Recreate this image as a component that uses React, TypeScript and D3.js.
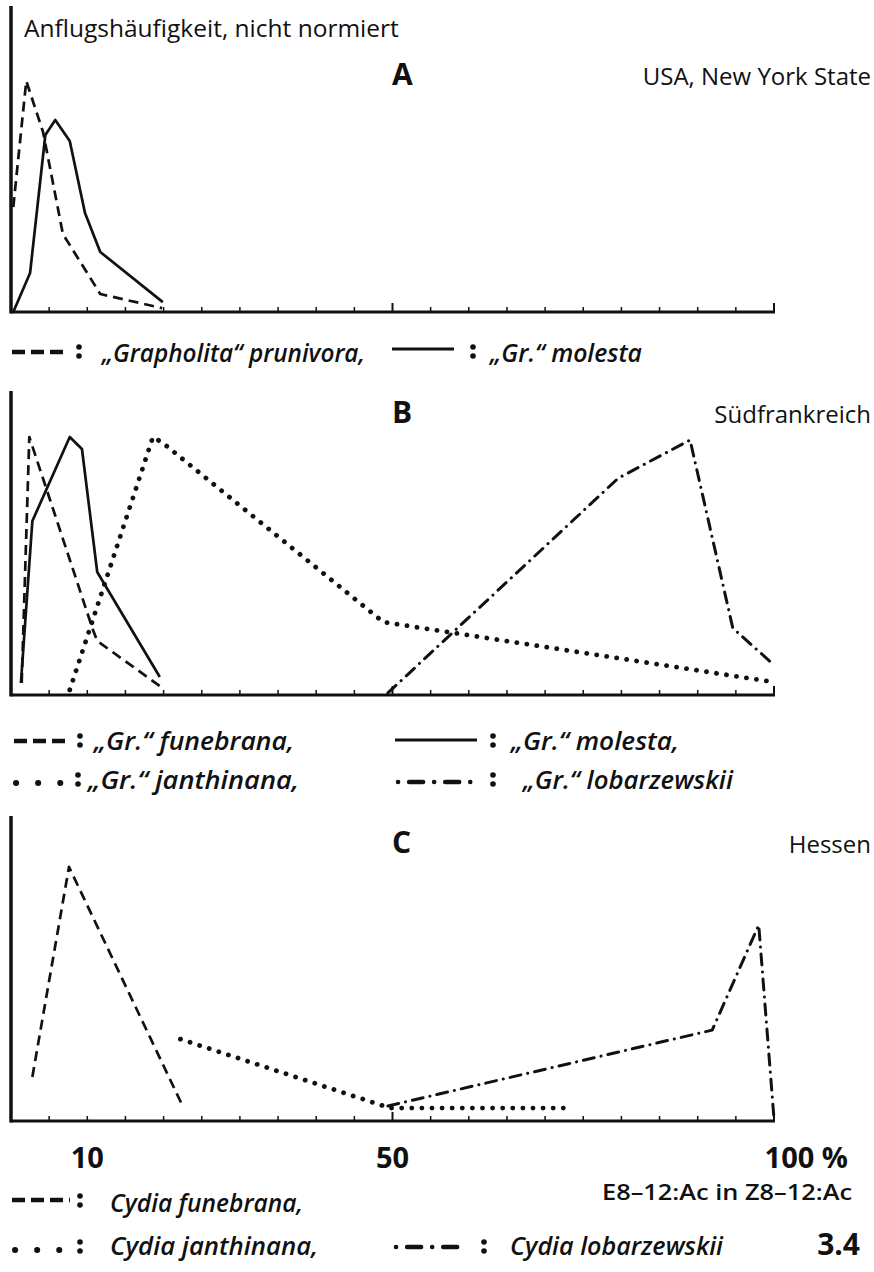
import React from 'react';
import * as d3 from 'd3';

type Pt = [number, number];

// x: % E8-12:Ac in Z8-12:Ac, y: Anflugshäufigkeit (relativ, nicht normiert)
const aPrunivora: Pt[] = [[0.3, 35], [2, 77], [4.2, 60], [6.8, 26], [11.7, 6], [19.8, 1.3]];
const aMolesta: Pt[] = [[0.3, 0], [2.5, 13], [4.5, 59], [5.8, 64], [7.7, 57], [9.7, 33], [11.7, 20], [19.9, 3.3]];

const bFunebrana: Pt[] = [[1.4, 4], [2.4, 86], [10.7, 22], [11.3, 18], [19.5, 3]];
const bMolesta: Pt[] = [[1.3, 4], [2.8, 58], [7.7, 86], [9.3, 82], [11.3, 41], [19.5, 6]];
const bJanthinana: Pt[] = [[7.7, 1.7], [18.6, 86], [19.9, 84], [48.8, 24.3], [100, 4.3]];
const bLobarzewskii: Pt[] = [[49.4, 0.7], [79.6, 72.3], [89, 85], [94.6, 22.3], [100, 10]];

const cFunebrana: Pt[] = [[2.8, 14.7], [7.6, 84.7], [22.5, 5]];
const cJanthinana: Pt[] = [[22.2, 27.3], [49.7, 4.3], [73, 4.3]];
const cLobarzewskii: Pt[] = [[49.4, 5], [91.9, 30.3], [98, 65.3], [100, 0.7]];

const xLabels = [10, 50, 100];

const W = 874;
const H = 1272;
const textFont = "'Open Sans', 'Noto Sans', sans-serif";

const styles: Record<string, { dash: string; width: number; cap: 'round' | 'butt' }> = {
  dashed: { dash: '10 6', width: 2.7, cap: 'butt' },
  solid: { dash: '', width: 2.7, cap: 'butt' },
  dotted: { dash: '0.1 10', width: 4.8, cap: 'round' },
  dashdot: { dash: '11 7 0.1 7', width: 3, cap: 'round' },
};

const x = d3.scaleLinear().domain([0, 100]).range([11, 774]);

interface PanelProps {
  base: number;
  top: number;
  series: { data: Pt[]; kind: string }[];
}

const Panel: React.FC<PanelProps> = ({ base, top, series }) => {
  const y = d3.scaleLinear().domain([0, 100]).range([base, base - 300]);
  const line = d3
    .line<Pt>()
    .x((d) => x(d[0]))
    .y((d) => y(d[1]));
  const ticks = d3.range(5, 101, 5);
  return (
    <g>
      {series.map((s, i) => {
        const st = styles[s.kind];
        return (
          <path
            key={i}
            d={line(s.data) || ''}
            fill="none"
            stroke="#111"
            strokeWidth={st.width}
            strokeDasharray={st.dash || undefined}
            strokeLinecap={st.cap}
            strokeLinejoin="round"
          />
        );
      })}
      {/* Achsen */}
      <line x1={x(0)} x2={x(0)} y1={top} y2={base + 1.5} stroke="#111" strokeWidth={3.5} />
      <line x1={x(0)} x2={x(100) + 1} y1={base} y2={base} stroke="#111" strokeWidth={3} />
      {ticks.map((t) => (
        <line
          key={t}
          x1={x(t)}
          x2={x(t)}
          y1={base}
          y2={base - (t % 50 === 0 ? 9 : 5)}
          stroke="#111"
          strokeWidth={t % 50 === 0 ? 2 : 1.5}
        />
      ))}
    </g>
  );
};

const legendDash: Record<string, string> = {
  dashed: '13 6',
  solid: '',
  dotted: '0.1 22',
  dashdot: '0.1 11 14 11',
};

const Sample: React.FC<{ kind: string; x1: number; x2: number; y: number }> = ({ kind, x1, x2, y }) => (
  <line
    x1={x1}
    x2={x2}
    y1={y}
    y2={y}
    stroke="#111"
    strokeWidth={kind === 'dotted' ? 6 : kind === 'solid' ? 3 : 4.5}
    strokeDasharray={legendDash[kind] || undefined}
    strokeLinecap={kind === 'dotted' || kind === 'dashdot' ? 'round' : 'butt'}
  />
);

const Colon: React.FC<{ x: number; y: number }> = ({ x: cx, y }) => (
  <g>
    <circle cx={cx} cy={y - 5} r={2.8} fill="#111" />
    <circle cx={cx} cy={y + 4} r={2.8} fill="#111" />
  </g>
);

const LegendText: React.FC<{ x: number; y: number; w: number; children: React.ReactNode }> = ({
  x: tx,
  y,
  w,
  children,
}) => (
  <text
    x={tx}
    y={y}
    textLength={w}
    lengthAdjust="spacingAndGlyphs"
    fontFamily={textFont}
    fontStyle="italic"
    fontWeight={600}
    fontSize={26}
    fill="#111"
  >
    {children}
  </text>
);

export default function App() {
  return (
    <svg width={W} height={H} style={{ position: 'absolute', left: 0, top: 0, background: '#fff' }}>
      <rect width={W} height={H} fill="#fff" />

      {/* Panel A */}
      <text x={24} y={37} fontFamily={textFont} fontSize={24.5} fill="#111">
        Anflugshäufigkeit, nicht normiert
      </text>
      <text x={392} y={85} fontFamily={textFont} fontWeight={700} fontSize={30} fill="#111">A</text>
      <text x={871} y={85} textAnchor="end" fontFamily={textFont} fontSize={24} fill="#111">
        USA, New York State
      </text>
      <Panel
        base={312}
        top={6}
        series={[
          { data: aPrunivora, kind: 'dashed' },
          { data: aMolesta, kind: 'solid' },
        ]}
      />
      <Sample kind="dashed" x1={12} x2={68} y={352} />
      <Colon x={79} y={352} />
      <LegendText x={102} y={362} w={263}>„Grapholita“ prunivora,</LegendText>
      <Sample kind="solid" x1={392} x2={454} y={349} />
      <Colon x={473} y={352} />
      <LegendText x={490} y={362} w={152}>„Gr.“ molesta</LegendText>

      {/* Panel B */}
      <text x={392} y={423} fontFamily={textFont} fontWeight={700} fontSize={30} fill="#111">B</text>
      <text x={871} y={423} textAnchor="end" fontFamily={textFont} fontSize={24} fill="#111">
        Südfrankreich
      </text>
      <Panel
        base={695}
        top={391}
        series={[
          { data: bFunebrana, kind: 'dashed' },
          { data: bMolesta, kind: 'solid' },
          { data: bJanthinana, kind: 'dotted' },
          { data: bLobarzewskii, kind: 'dashdot' },
        ]}
      />
      <Sample kind="dashed" x1={14} x2={69} y={741} />
      <Colon x={80} y={741} />
      <LegendText x={94} y={750} w={200}>„Gr.“ funebrana,</LegendText>
      <Sample kind="solid" x1={395} x2={477} y={740} />
      <Colon x={493} y={741} />
      <LegendText x={511} y={750} w={168}>„Gr.“ molesta,</LegendText>
      <Sample kind="dotted" x1={16} x2={62} y={783} />
      <Colon x={78} y={780} />
      <LegendText x={88} y={789} w={211}>„Gr.“ janthinana,</LegendText>
      <Sample kind="dashdot" x1={398} x2={476} y={782} />
      <Colon x={493} y={780} />
      <LegendText x={523} y={789} w={210}>„Gr.“ lobarzewskii</LegendText>

      {/* Panel C */}
      <text x={392} y={853} fontFamily={textFont} fontWeight={700} fontSize={30} fill="#111">C</text>
      <text x={871} y={853} textAnchor="end" fontFamily={textFont} fontSize={24} fill="#111">
        Hessen
      </text>
      <Panel
        base={1121}
        top={816}
        series={[
          { data: cFunebrana, kind: 'dashed' },
          { data: cJanthinana, kind: 'dotted' },
          { data: cLobarzewskii, kind: 'dashdot' },
        ]}
      />

      {/* x-Beschriftung */}
      {xLabels.map((v) => (
        <text
          key={v}
          x={v === 100 ? 848 : x(v)}
          y={1168}
          textAnchor={v === 100 ? 'end' : 'middle'}
          fontFamily={textFont}
          fontWeight={700}
          fontSize={29}
          fill="#111"
        >
          {v === 100 ? '100 %' : v}
        </text>
      ))}
      <text
        x={852}
        y={1200}
        textAnchor="end"
        textLength={250}
        lengthAdjust="spacingAndGlyphs"
        fontFamily={textFont}
        fontWeight={600}
        fontSize={22}
        fill="#111"
      >
        E8–12:Ac in Z8–12:Ac
      </text>

      <Sample kind="dashed" x1={12} x2={70} y={1200} />
      <Colon x={80} y={1201} />
      <LegendText x={110} y={1212} w={193}>Cydia funebrana,</LegendText>
      <Sample kind="dotted" x1={15} x2={61} y={1250} />
      <Colon x={80} y={1247} />
      <LegendText x={110} y={1255} w={208}>Cydia janthinana,</LegendText>
      <Sample kind="dashdot" x1={396} x2={468} y={1247} />
      <Colon x={484} y={1247} />
      <LegendText x={510} y={1255} w={213}>Cydia lobarzewskii</LegendText>
      <text x={860} y={1255} textAnchor="end" fontFamily={textFont} fontWeight={700} fontSize={30} fill="#111">
        3.4
      </text>
    </svg>
  );
}
